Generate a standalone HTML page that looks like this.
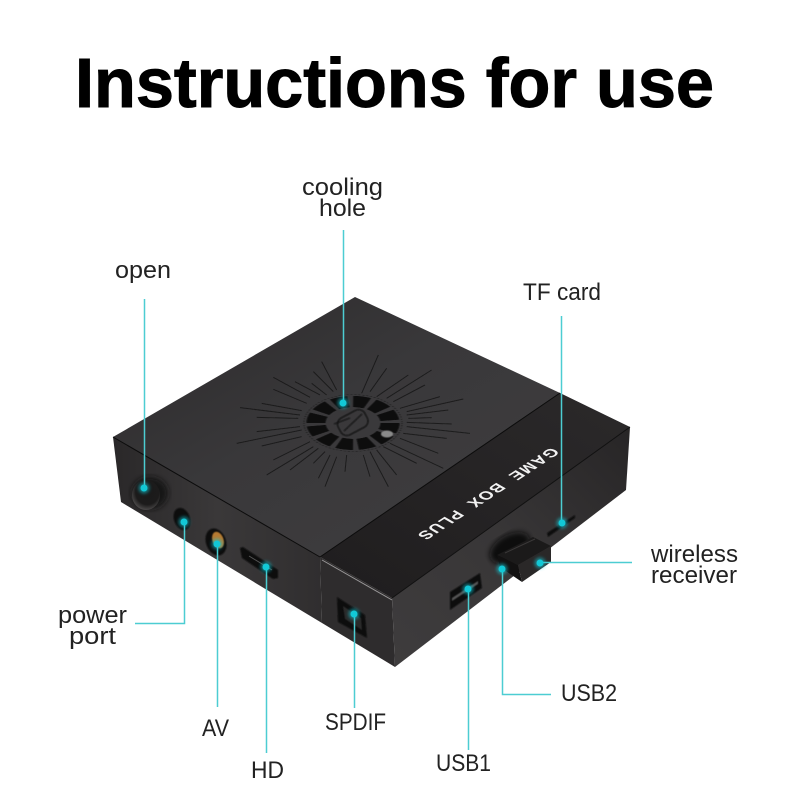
<!DOCTYPE html>
<html><head><meta charset="utf-8"><style>
html,body{margin:0;padding:0;background:#fff}
svg{display:block}
text{font-family:"Liberation Sans",sans-serif}
</style></head><body>
<svg width="790" height="811" viewBox="0 0 790 811" xmlns="http://www.w3.org/2000/svg">
<defs>
<linearGradient id="top" x1="0" y1="0" x2="1" y2="1"><stop offset="0" stop-color="#2b292a"/><stop offset=".45" stop-color="#39383a"/><stop offset="1" stop-color="#403e40"/></linearGradient>
<linearGradient id="tray" x1="0" y1="1" x2="1" y2="0"><stop offset="0" stop-color="#1f1d1e"/><stop offset="1" stop-color="#2b292a"/></linearGradient>
<linearGradient id="lf" x1="0" y1="0" x2="1" y2="0"><stop offset="0" stop-color="#2a2829"/><stop offset=".5" stop-color="#3a3839"/><stop offset="1" stop-color="#302e2f"/></linearGradient>
<linearGradient id="rf" x1="0" y1="1" x2="1" y2="0"><stop offset="0" stop-color="#3e3c3d"/><stop offset=".5" stop-color="#383637"/><stop offset="1" stop-color="#272526"/></linearGradient>
<filter id="b1"><feGaussianBlur stdDeviation=".6"/></filter>
<filter id="b03"><feGaussianBlur stdDeviation=".3"/></filter>
<filter id="b3"><feGaussianBlur stdDeviation="3"/></filter>
<filter id="g"><feGaussianBlur stdDeviation="1.6"/></filter>
<radialGradient id="knob" cx=".55" cy=".4" r=".6"><stop offset="0" stop-color="#1a1a1a"/><stop offset=".7" stop-color="#1c1b1b"/><stop offset="1" stop-color="#4a4848"/></radialGradient>
</defs>
<rect width="790" height="811" fill="#fff"/>

<text x="75" y="107" font-size="70" font-weight="700" fill="#000" stroke="#000" stroke-width="1" textLength="639" lengthAdjust="spacingAndGlyphs">Instructions for use</text>

<!-- box -->
<polygon points="113,437 320,557 322,623 121,502" fill="url(#lf)"/>
<polygon points="320,557 392,598 395,667 322,623" fill="#2e2c2d"/>
<polygon points="392,598 630,427 626,490 395,667" fill="url(#rf)"/>
<polygon points="355,297 560,393 320,557 113,437" fill="url(#top)"/>
<polygon points="560,393 630,427 392,598 320,557" fill="url(#tray)"/>
<polyline points="113,437 320,557" fill="none" stroke="#0c0c0c" stroke-width="1"/>
<polyline points="560,393 320,557" fill="none" stroke="#0c0c0c" stroke-width="1"/>
<polyline points="322,560 392,600" fill="none" stroke="#9a9899" stroke-width="1"/>
<polyline points="392,598 630,427" fill="none" stroke="#111" stroke-width="1"/>

<!-- rays -->
<g transform="translate(230 340) scale(.3333)" stroke="#161516" stroke-opacity=".75" stroke-width="3" filter="url(#b03)">
<path d="M30 203L210 225M80 232L205 235M95 190L215 212M130 148L230 190M130 112L240 172M195 125L270 165M245 130L290 165M250 95L310 155M275 65L320 150M445 45L395 160M470 85L420 155M535 105L440 170M605 90L470 175M585 135L490 185M630 170L510 205M700 177L530 215M655 210L530 225M605 233L535 235M665 252L530 247M720 280L530 260M650 295L520 280M625 340L510 295M640 385L480 310M560 370L460 320M500 405L440 330M475 440L420 335M210 260L80 275M215 270L20 310M215 290L95 318M240 305L130 360M250 320L110 405M265 325L180 390M285 335L250 370M300 345L265 415M320 350L285 440M350 345L345 395M400 345L420 410"/>
</g>
<g transform="translate(353 423) scale(1 .58)" fill="none" filter="url(#b1)">
<circle r="49" stroke="#1a1a1a" stroke-width=".8" stroke-dasharray="2 2"/>
<circle r="37" stroke="#080808" stroke-width="19" stroke-dasharray="14.4 4.97"/>
</g>
<g fill="none" stroke="#111" stroke-width="1.2" filter="url(#b1)">
<rect x="338" y="413" width="30" height="19" rx="7" transform="rotate(-28 353 423)"/>
<line x1="334" y1="424" x2="350" y2="418"/>
<line x1="344" y1="431" x2="362" y2="414"/>
</g>
<ellipse cx="387" cy="434" rx="6" ry="3.5" fill="#8a8a8a" filter="url(#b1)"/>

<!-- GAME BOX PLUS -->
<text transform="matrix(-.84 .55 -.87 -.5 551 447)" font-size="16" font-weight="700" fill="#f2f2f2" textLength="160" lengthAdjust="spacing" xml:space="preserve">GAME  BOX  PLUS</text>

<!-- ports left -->
<ellipse cx="150" cy="493" rx="18" ry="16" fill="#141313" filter="url(#b3)"/>
<ellipse cx="146" cy="495" rx="14" ry="15" fill="url(#knob)"/>
<ellipse cx="182" cy="519" rx="8" ry="11.5" transform="rotate(-20 182 519)" fill="#0d0d0d" filter="url(#b1)"/>
<ellipse cx="216" cy="542" rx="10" ry="14" transform="rotate(-20 216 542)" fill="#0e0e0e" filter="url(#b1)"/>
<ellipse cx="218" cy="540" rx="5.5" ry="8.5" transform="rotate(-20 218 540)" fill="#b57a30" filter="url(#b1)"/>
<polygon points="240,548 243,547 278,570 278,578 273,579 242,558" fill="#0b0b0b" filter="url(#b1)"/>
<line x1="249" y1="556" x2="272" y2="570" stroke="#555" stroke-width="1"/>

<!-- ports right -->
<polygon points="337,597 365,615 367,638 338,622" fill="#0d0d0d" filter="url(#b1)"/>
<polygon points="343,606 361,618 362,630 345,619" fill="#2b2b2b" filter="url(#b1)"/>
<polygon points="450,592 480,573 482,588 450,610" fill="#0e0e0e" filter="url(#b1)"/>
<polygon points="452,598 478,581 478,584 452,601" fill="#555" filter="url(#b1)"/>
<polygon points="547,533 575,515 575,518 548,537" fill="#0d0d0d" filter="url(#b1)"/>

<!-- dongle -->
<ellipse cx="510" cy="548" rx="22" ry="13" fill="#111" filter="url(#b3)" transform="rotate(-30 510 548)"/>
<polygon points="497,555 533,537 551,546 518,565" fill="#1b1a1a"/>
<polygon points="497,555 518,565 522,582 500,567" fill="#121111"/>
<polygon points="518,565 551,546 551,562 522,582" fill="#2a2828"/>
<line x1="505" y1="553" x2="535" y2="539" stroke="#3a3838" stroke-width="1"/>

<!-- connectors -->
<g fill="none" stroke="#4ccdd2" stroke-width="1.5">
<path d="M144.5 299V488"/>
<path d="M343.5 230V403"/>
<path d="M561.5 316V523"/>
<path d="M540 562.5H632"/>
<path d="M184.5 522V623.5H135"/>
<path d="M217.5 544V707"/>
<path d="M266.5 567V753"/>
<path d="M354.5 614V708"/>
<path d="M468.5 589V750"/>
<path d="M502.5 569V694.5H551"/>
</g>
<g fill="#12c8d6">
<g opacity=".55" filter="url(#g)">
<circle cx="144" cy="488" r="5.5"/><circle cx="343" cy="403" r="5.5"/><circle cx="562" cy="523" r="5.5"/><circle cx="540" cy="563" r="5.5"/><circle cx="184" cy="522" r="5.5"/><circle cx="217" cy="544" r="5.5"/><circle cx="266" cy="567" r="5.5"/><circle cx="354" cy="614" r="5.5"/><circle cx="468" cy="589" r="5.5"/><circle cx="502" cy="569" r="5.5"/>
</g>
<circle cx="144" cy="488" r="3.5"/><circle cx="343" cy="403" r="3.5"/><circle cx="562" cy="523" r="3.5"/><circle cx="540" cy="563" r="3.5"/><circle cx="184" cy="522" r="3.5"/><circle cx="217" cy="544" r="3.5"/><circle cx="266" cy="567" r="3.5"/><circle cx="354" cy="614" r="3.5"/><circle cx="468" cy="589" r="3.5"/><circle cx="502" cy="569" r="3.5"/>
</g>

<!-- labels -->
<g font-size="24" fill="#222">
<text x="302" y="195" textLength="81" lengthAdjust="spacingAndGlyphs">cooling</text>
<text x="319" y="216" textLength="47" lengthAdjust="spacingAndGlyphs">hole</text>
<text x="115" y="278" textLength="56" lengthAdjust="spacingAndGlyphs">open</text>
<text x="523" y="300" textLength="78" lengthAdjust="spacingAndGlyphs">TF card</text>
<text x="651" y="562" textLength="87" lengthAdjust="spacingAndGlyphs">wireless</text>
<text x="651" y="583" textLength="86" lengthAdjust="spacingAndGlyphs">receiver</text>
<text x="58" y="623" textLength="69" lengthAdjust="spacingAndGlyphs">power</text>
<text x="69" y="644" textLength="47" lengthAdjust="spacingAndGlyphs">port</text>
<text x="202" y="736" textLength="27" lengthAdjust="spacingAndGlyphs">AV</text>
<text x="251" y="778" textLength="33" lengthAdjust="spacingAndGlyphs">HD</text>
<text x="325" y="730" textLength="61" lengthAdjust="spacingAndGlyphs">SPDIF</text>
<text x="436" y="771" textLength="55" lengthAdjust="spacingAndGlyphs">USB1</text>
<text x="561" y="701" textLength="56" lengthAdjust="spacingAndGlyphs">USB2</text>
</g>
</svg>
</body></html>
